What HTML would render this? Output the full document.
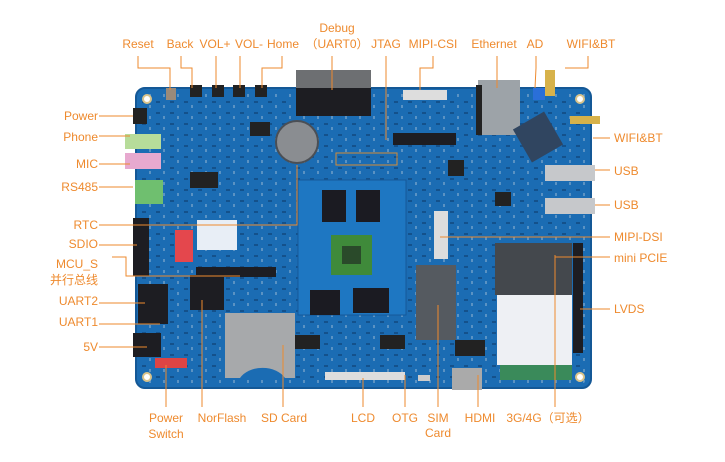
<!DOCTYPE html>
<html><head><meta charset="utf-8"><style>
body{margin:0;background:#fff;}
svg{display:block;}
text{font-family:"Liberation Sans","Noto Sans CJK SC",sans-serif;font-size:12px;fill:#ee8a2e;}
</style></head><body>
<svg width="725" height="462" viewBox="0 0 725 462" xmlns="http://www.w3.org/2000/svg">
<defs>
<pattern id="p" width="14" height="11" patternUnits="userSpaceOnUse">
<rect x="2" y="2" width="4" height="2" fill="#0f3f70" opacity="0.6"/>
<rect x="9" y="6" width="2" height="3" fill="#cfd8e0" opacity="0.35"/>
</pattern>
</defs>
<!-- board -->
<rect x="136" y="88" width="455" height="300" rx="9" fill="#1b6cb3"/>
<rect x="140" y="92" width="447" height="292" rx="7" fill="url(#p)"/>
<rect x="136" y="88" width="455" height="300" rx="9" fill="none" stroke="#145896" stroke-width="2"/>
<g fill="#fff" stroke="#d9c38a" stroke-width="2"><circle cx="147" cy="99" r="4"/><circle cx="580" cy="99" r="4"/><circle cx="147" cy="377" r="4"/><circle cx="580" cy="377" r="4"/></g>
<!-- core board -->
<rect x="298" y="180" width="108" height="135" fill="#1e77c2" stroke="#15599a"/>
<rect x="322" y="190" width="24" height="32" fill="#1b1b22"/><rect x="356" y="190" width="24" height="32" fill="#1b1b22"/>
<rect x="331" y="235" width="41" height="40" fill="#3f8a3a"/><rect x="342" y="246" width="19" height="18" fill="#2a4a2a"/>
<rect x="310" y="290" width="30" height="25" fill="#1b1b22"/><rect x="353" y="288" width="36" height="25" fill="#1b1b22"/>
<rect x="250" y="122" width="20" height="14" fill="#222"/><rect x="190" y="172" width="28" height="16" fill="#222"/>
<rect x="448" y="160" width="16" height="16" fill="#222"/><rect x="495" y="192" width="16" height="14" fill="#222"/>
<rect x="290" y="335" width="30" height="14" fill="#222"/><rect x="380" y="335" width="25" height="14" fill="#222"/>
<rect x="455" y="340" width="30" height="16" fill="#222"/>
<!-- DB9 -->
<rect x="296" y="70" width="75" height="20" fill="#6d6f72"/><rect x="296" y="88" width="75" height="28" fill="#1d1d22"/>
<circle cx="297" cy="142" r="21" fill="#8a8d91" stroke="#4b4f55" stroke-width="2"/>
<g fill="#222"><rect x="166" y="88" width="10" height="12" fill="#9a8a7a"/><rect x="190" y="85" width="12" height="12"/><rect x="212" y="85" width="12" height="12"/><rect x="233" y="85" width="12" height="12"/><rect x="255" y="85" width="12" height="12"/></g>
<rect x="393" y="133" width="63" height="12" fill="#1d1d22"/>
<rect x="336" y="153" width="61" height="12" fill="none" stroke="#d68b35"/>
<rect x="403" y="90" width="44" height="10" fill="#ddd"/>
<rect x="478" y="80" width="42" height="55" fill="#9da3a8"/><rect x="476" y="85" width="6" height="50" fill="#222"/>
<rect x="520" y="118" width="36" height="38" fill="#304560" transform="rotate(-30 538 137)"/>
<rect x="533" y="88" width="12" height="12" fill="#2a6fd8"/>
<rect x="545" y="70" width="10" height="26" fill="#d7b24a"/><rect x="570" y="116" width="30" height="8" fill="#d7b24a"/>
<rect x="545" y="165" width="50" height="16" fill="#c6c8cb"/><rect x="545" y="198" width="50" height="16" fill="#c6c8cb"/>
<rect x="125" y="134" width="36" height="15" fill="#b7dc9a"/><rect x="125" y="153" width="36" height="16" fill="#e7a9cf"/>
<rect x="135" y="180" width="28" height="24" fill="#6fbf6f"/>
<rect x="133" y="108" width="14" height="16" fill="#222"/>
<rect x="133" y="218" width="16" height="58" fill="#1d1d22"/>
<rect x="138" y="284" width="30" height="40" fill="#1d1d22"/>
<rect x="133" y="333" width="28" height="24" fill="#1d1d22"/>
<rect x="175" y="230" width="18" height="32" fill="#e4474d"/>
<rect x="197" y="220" width="40" height="30" fill="#e8eef6"/>
<rect x="196" y="267" width="80" height="10" fill="#1d1d22"/>
<rect x="190" y="275" width="34" height="35" fill="#1d1d22"/>
<rect x="225" y="313" width="70" height="65" fill="#a7a9ab"/>
<path d="M240 378 A25 18 0 0 1 285 378 Z" fill="#1b6cb3"/>
<rect x="155" y="358" width="32" height="10" fill="#d44"/>
<rect x="434" y="211" width="14" height="48" fill="#ddd"/>
<rect x="416" y="265" width="40" height="75" fill="#555a60"/>
<rect x="495" y="243" width="77" height="52" fill="#44484d"/>
<rect x="497" y="295" width="75" height="70" fill="#eef0f4"/>
<rect x="500" y="365" width="72" height="15" fill="#3a8a5a"/>
<rect x="573" y="243" width="10" height="110" fill="#1d1d22"/>
<rect x="452" y="368" width="30" height="22" fill="#aaa"/>
<rect x="325" y="372" width="80" height="8" fill="#ddd"/>
<rect x="418" y="375" width="12" height="6" fill="#ccc"/>

<g stroke="#ee8a2e" stroke-width="1" fill="none">
<polyline points="138,56 138,68 170,68 170,90"/>
<polyline points="181,56 181,68 192,68 192,88"/>
<polyline points="216,56 216,88"/>
<polyline points="240,56 240,88"/>
<polyline points="282,56 282,68 262,68 262,88"/>
<polyline points="332,56 332,90"/>
<polyline points="386,56 386,140"/>
<polyline points="433,56 433,68 420,68 420,90 M433,68 448,68 448,135"/>
<polyline points="497,56 497,88"/>
<polyline points="536,56 536,68 535,88"/>
<polyline points="588,56 588,68 565,68"/>
<polyline points="99,116 133,116"/><polyline points="99,136 130,136"/><polyline points="99,164 130,164"/><polyline points="99,187 133,187"/>
<polyline points="99,225 297,225 297,165"/>
<polyline points="99,245 137,245"/>
<polyline points="112,257 126,257 126,276 240,276 M112,272 126,272"/>
<polyline points="99,303 145,303"/><polyline points="99,324 160,324"/><polyline points="99,347 147,347"/>
<polyline points="610,138 593,138"/><polyline points="610,170 595,170"/><polyline points="610,205 595,205"/>
<polyline points="610,237 440,237"/><polyline points="610,257 555,257"/><polyline points="610,309 580,309"/>
<polyline points="166,407 166,365"/><polyline points="202,407 202,300"/><polyline points="283,407 283,345"/>
<polyline points="363,407 363,378"/><polyline points="405,407 405,375"/><polyline points="438,407 438,305"/>
<polyline points="478,407 478,375"/><polyline points="555,407 555,255"/>
</g>

<g text-anchor="middle">
<text x="138" y="48">Reset</text><text x="180" y="48">Back</text><text x="215" y="48">VOL+</text>
<text x="249" y="48">VOL-</text><text x="283" y="48">Home</text>
<text x="337" y="32">Debug</text><text x="337" y="48">（UART0）</text>
<text x="386" y="48">JTAG</text><text x="433" y="48">MIPI-CSI</text><text x="494" y="48">Ethernet</text>
<text x="535" y="48">AD</text><text x="591" y="48">WIFI&amp;BT</text>
<text x="166" y="422">Power</text><text x="166" y="438">Switch</text>
<text x="222" y="422">NorFlash</text><text x="284" y="422">SD Card</text><text x="363" y="422">LCD</text>
<text x="405" y="422">OTG</text><text x="438" y="422">SIM</text><text x="438" y="437">Card</text>
<text x="480" y="422">HDMI</text><text x="548" y="422">3G/4G（可选）</text>
</g>
<g text-anchor="end">
<text x="98" y="120">Power</text><text x="98" y="141">Phone</text><text x="98" y="168">MIC</text>
<text x="98" y="191">RS485</text><text x="98" y="229">RTC</text><text x="98" y="248">SDIO</text>
<text x="98" y="268">MCU_S</text><text x="98" y="284">并行总线</text>
<text x="98" y="305">UART2</text><text x="98" y="326">UART1</text><text x="98" y="351">5V</text>
</g>
<g>
<text x="614" y="142">WIFI&amp;BT</text><text x="614" y="175">USB</text><text x="614" y="209">USB</text>
<text x="614" y="241">MIPI-DSI</text><text x="614" y="262">mini PCIE</text><text x="614" y="313">LVDS</text>
</g>
</svg>
</body></html>
